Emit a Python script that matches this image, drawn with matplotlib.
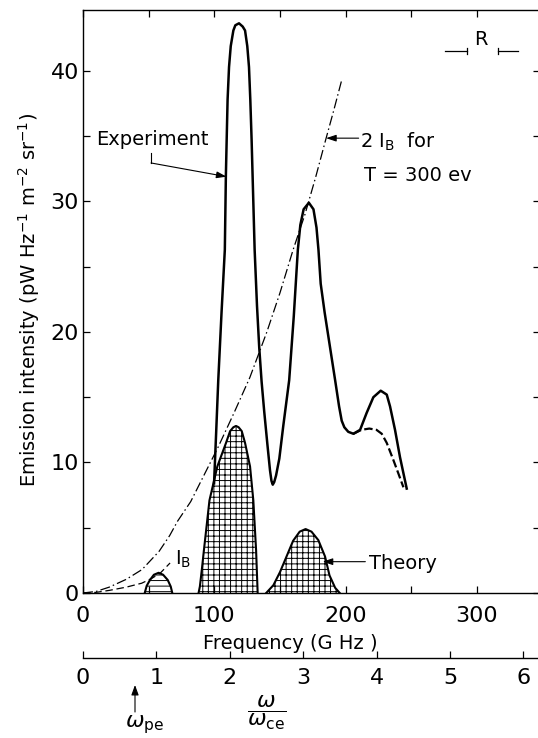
import matplotlib
matplotlib.use("Agg")
import matplotlib.pyplot as plt
from matplotlib.ticker import FixedLocator, MultipleLocator

plt.rcParams['font.family'] = ['DejaVu Sans']
plt.rcParams['mathtext.fontset'] = 'dejavusans'
plt.rcParams['hatch.linewidth'] = 0.7

# ---------------- data ----------------
exp_freq = [99.8, 101.4, 103.0, 105.5, 108.0, 108.8, 109.4, 110.1, 111.2, 112.5,
            114.5, 116.0, 118.8, 121.6, 123.4, 125.1, 126.4, 127.4, 128.4, 130.7,
            132.5, 134.2, 136.0, 138.0, 140.4, 142.4, 143.5, 144.5, 145.6, 147.0,
            149.5, 152.5, 157.0, 160.5, 163.6, 165.5, 168.0, 172.0, 175.5, 177.8,
            179.3, 181.0, 184.0, 188.0, 192.0, 195.0, 197.0, 199.0, 202.0, 205.9,
            211.0, 216.0, 221.1, 226.7, 231.3, 233.8, 237.6, 241.4, 246.5]
exp_val = [8.4, 12.3, 16.3, 21.5, 26.3, 32.0, 34.7, 37.8, 40.3, 41.9,
           43.1, 43.5, 43.65, 43.4, 43.1, 41.9, 40.3, 37.8, 34.7, 26.3,
           22.0, 18.8, 16.2, 13.9, 11.4, 9.4, 8.6, 8.3, 8.5, 9.0,
           10.3, 12.8, 16.3, 21.2, 26.3, 28.2, 29.4, 29.9, 29.4, 28.0,
           26.3, 23.7, 21.5, 18.9, 16.3, 14.3, 13.2, 12.7, 12.35, 12.2,
           12.5, 13.8, 15.0, 15.5, 15.2, 14.3, 12.5, 10.4, 8.0]

expdash_freq = [205.9, 212.0, 218.0, 223.5, 227.5, 231.3, 236.3, 240.0, 244.0]
expdash_val = [12.2, 12.5, 12.6, 12.5, 12.2, 11.5, 10.2, 9.2, 8.1]

ib2_freq = [0, 10, 20, 33, 45, 58, 66, 72, 82, 92, 103, 115, 127, 140, 150,
            160, 169, 177, 185, 191, 197]
ib2_val = [0, 0.12, 0.45, 1.05, 1.8, 3.2, 4.4, 5.5, 7.0, 9.0, 11.2, 13.8, 16.5,
           20.0, 23.0, 26.3, 29.0, 31.8, 34.8, 37.0, 39.3]

ib_freq = [0, 10, 20, 33, 44.7, 52, 58.6, 66.3]
ib_val = [0, 0.05, 0.2, 0.45, 0.75, 1.1, 1.5, 2.3]

th1_freq = [47.0, 48.5, 51.0, 54.0, 57.6, 61.0, 64.5, 66.8, 68.0]
th1_val = [0, 0.55, 1.0, 1.4, 1.55, 1.4, 1.0, 0.5, 0]

th2_freq = [88.0, 89.0, 90.5, 92.1, 96.3, 102.3, 108.9, 112.0, 114.5, 116.5,
            118.5, 120.9, 123.4, 127.2, 129.7, 131.8, 133.0]
th2_val = [0, 0.5, 1.8, 3.3, 7.1, 9.7, 11.5, 12.4, 12.7, 12.8,
           12.7, 12.4, 11.5, 9.7, 7.1, 3.3, 0]

th3_freq = [139.5, 145.0, 150.0, 155.0, 160.0, 165.0, 169.5, 174.0, 179.2,
            184.3, 187.7, 192.0, 195.5]
th3_val = [0, 0.6, 1.6, 2.8, 4.0, 4.7, 4.9, 4.7, 4.05, 2.8, 1.35, 0.4, 0]

freq_ticks = [0, 100, 200, 300]
int_ticks = [0, 10, 20, 30, 40]
w_ticks = [0, 1, 2, 3, 4, 5, 6]
f_ce = 55.9  # GHz per unit of omega/omega_ce

# ---------------- figure ----------------
W, H = 538, 738
fig = plt.figure(figsize=(W / 100, H / 100), dpi=100)


def fx(x):
    return x / W


def fy(y):
    return 1 - y / H


ax = fig.add_axes([fx(83), fy(593), (540 - 83) / W, (593 - 10) / H])
ax.set_xlim(0, 348)
ax.set_ylim(0, 44.67)
for s in ax.spines.values():
    s.set_linewidth(1.0)

ax.xaxis.set_major_locator(FixedLocator(freq_ticks))
ax.xaxis.set_minor_locator(MultipleLocator(50))
ax.yaxis.set_major_locator(FixedLocator(int_ticks))
ax.yaxis.set_minor_locator(MultipleLocator(5))
ax.tick_params(which='both', direction='in', top=True, right=True,
               length=5, width=0.9)
ax.tick_params(axis='both', labelsize=16)
ax.tick_params(axis='x', pad=9.5)
ax.tick_params(axis='y', pad=3)

# theory (hatched)
ax.fill_between(th1_freq, th1_val, 0, facecolor='white', edgecolor='black',
                hatch='---', linewidth=0, zorder=1)
ax.fill_between(th2_freq, th2_val, 0, facecolor='white', edgecolor='black',
                hatch='+++', linewidth=0, zorder=1)
ax.fill_between(th3_freq, th3_val, 0, facecolor='white', edgecolor='black',
                hatch='+++', linewidth=0, zorder=1)
for fq, vv in [(th1_freq, th1_val), (th2_freq, th2_val), (th3_freq, th3_val)]:
    ax.plot(fq, vv, color='black', lw=1.5, solid_joinstyle='round', zorder=2)

# black-body curves
ax.plot(ib2_freq, ib2_val, color='black', lw=0.9, dashes=(8, 2.5, 1.2, 2.5),
        zorder=3)
ax.plot(ib_freq, ib_val, color='black', lw=0.9, dashes=(6, 3), zorder=3)

# experiment
ax.plot(exp_freq, exp_val, color='black', lw=1.8, solid_joinstyle='round',
        zorder=4)
ax.plot(expdash_freq, expdash_val, color='black', lw=1.6, dashes=(3.8, 1.5),
        zorder=4)

arrow_kw = dict(arrowstyle='-|>,head_length=0.6,head_width=0.2', color='black',
                lw=0.8, shrinkA=0, shrinkB=0)

# annotations
ax.text(9.9, 34.3, 'Experiment', fontsize=14, ha='left', va='baseline')
ax.plot([51.8, 51.8], [33.75, 32.95], color='black', lw=0.8)
ax.annotate('', xy=(109.3, 31.9), xytext=(51.8, 32.95), arrowprops=arrow_kw)

ax.text(210.9, 34.1, r'2 I$_{\mathrm{B}}$  for', fontsize=14, ha='left',
        va='baseline')
ax.text(213.9, 31.6, 'T = 300 ev', fontsize=14, ha='left', va='baseline')
ax.annotate('', xy=(185.1, 34.85), xytext=(209.9, 34.85), arrowprops=arrow_kw)

ax.text(217.8, 1.87, 'Theory', fontsize=14, ha='left', va='baseline')
ax.annotate('', xy=(182.5, 2.4), xytext=(215.0, 2.4), arrowprops=arrow_kw)

ax.text(70.0, 2.15, r'I$_{\mathrm{B}}$', fontsize=14, ha='left', va='baseline')

# R resolution bracket
ax.text(302.9, 42.0, 'R', fontsize=14, ha='center', va='baseline')
ax.plot([275.7, 292.2], [41.53, 41.53], color='black', lw=0.9)
ax.plot([292.2, 292.2], [41.3, 41.76], color='black', lw=0.9)
ax.plot([315.8, 331.5], [41.53, 41.53], color='black', lw=0.9)
ax.plot([315.8, 315.8], [41.3, 41.76], color='black', lw=0.9)

# axis labels
fig.text(fx(290), fy(649), 'Frequency (G Hz )', fontsize=14, ha='center',
         va='baseline')
fig.text(fx(29), fy(300),
         r'Emission intensity (pW Hz$^{-1}$ m$^{-2}$ sr$^{-1}$)',
         fontsize=14, rotation=90, ha='center', va='center')

# secondary omega/omega_ce axis
sec = ax.secondary_xaxis(-0.1115, functions=(lambda f: f / f_ce,
                                              lambda w: w * f_ce))
sec.set_xticks(w_ticks)
sec.tick_params(direction='in', length=5, width=0.9, labelsize=16, pad=7)
sec.spines['bottom'].set_linewidth(1.0)

fig.text(fx(267), fy(713), r'$\dfrac{\omega}{\omega_{\mathrm{ce}}}$',
         fontsize=16, ha='center', va='center')
fig.text(fx(125), fy(727), r'$\omega_{\mathrm{pe}}$', fontsize=16, ha='left',
         va='baseline')
fig.add_artist(matplotlib.patches.FancyArrowPatch(
    (fx(135), fy(712)), (fx(135), fy(685)), transform=fig.transFigure,
    arrowstyle='-|>,head_length=6,head_width=2.2', color='black', lw=0.8,
    shrinkA=0, shrinkB=0))

fig.savefig('out.png', dpi=100, facecolor='white')
